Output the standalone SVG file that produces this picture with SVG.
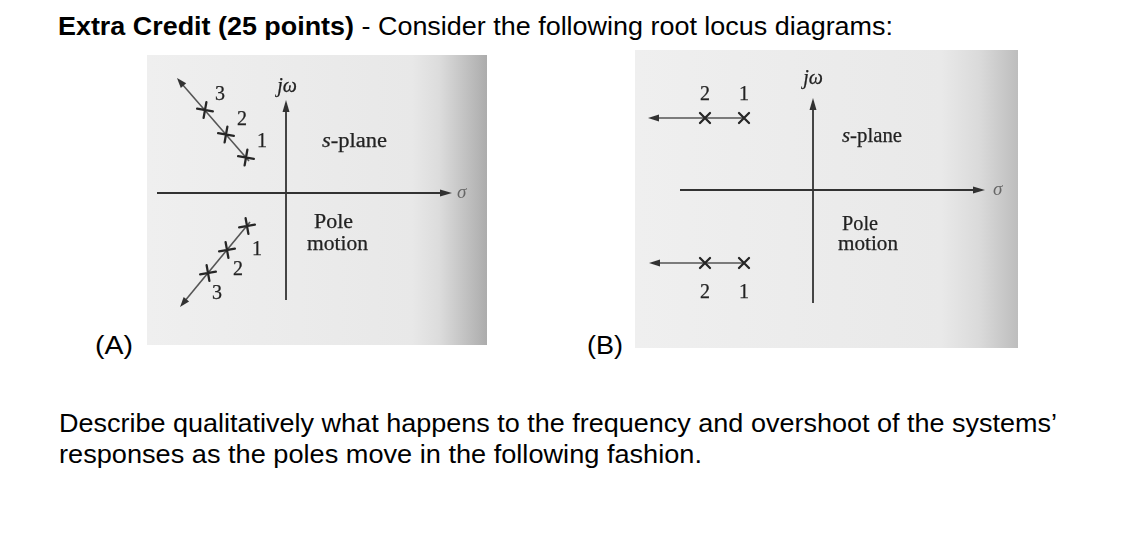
<svg xmlns="http://www.w3.org/2000/svg" width="1142" height="539" viewBox="0 0 1142 539">
<style>
.main{font-family:"Liberation Sans",Arial,sans-serif;font-size:25px;fill:#000}
.bold{font-weight:bold}
.fig{font-family:"Liberation Serif","Times New Roman",serif;font-size:20px;fill:#222;stroke:#222;stroke-width:0.25}
.num{font-family:"Liberation Serif","Times New Roman",serif;font-size:20px;fill:#222;stroke:#222;stroke-width:0.25;text-anchor:middle}
.it{font-style:italic}
.sig{font-family:"Liberation Serif","Times New Roman",serif;font-style:italic;font-size:19px;fill:#666}
.ax{stroke:#333;stroke-width:1.8;fill:none}
.loc{stroke:#555;stroke-width:1.6;fill:none}
.pole{stroke:#262626;stroke-width:2.3;fill:none;stroke-linecap:round}
.head{fill:#333;stroke:none}
</style>
<defs>
<linearGradient id="gA" x1="0" x2="1" y1="0" y2="0">
<stop offset="0" stop-color="#efefef"/>
<stop offset="0.78" stop-color="#e8e8e8"/>
<stop offset="0.86" stop-color="#dcdcdc"/>
<stop offset="1" stop-color="#acacac"/>
</linearGradient>
<linearGradient id="gB" x1="0" x2="1" y1="0" y2="0">
<stop offset="0" stop-color="#efefef"/>
<stop offset="0.8" stop-color="#e9e9e9"/>
<stop offset="0.9" stop-color="#dadada"/>
<stop offset="1" stop-color="#bdbdbd"/>
</linearGradient>
<filter id="soft" x="-5%" y="-5%" width="110%" height="110%"><feGaussianBlur stdDeviation="0.5"/></filter>
<path id="plus" d="M-8 0H8M0-8V8"/>
<path id="ex" d="M-5-5L5 5M-5 5L5-5"/>
</defs>

<g id="title">
<text class="main bold" x="58" y="35" textLength="296" lengthAdjust="spacingAndGlyphs">Extra Credit (25 points)</text>
<text class="main" x="361.5" y="35" textLength="531.5" lengthAdjust="spacingAndGlyphs">- Consider the following root locus diagrams:</text>
</g>

<g id="figureA">
<rect x="147" y="55" width="340" height="290" fill="url(#gA)"/>
<g filter="url(#soft)">
<line class="ax" x1="157" y1="193" x2="443" y2="193"/>
<polygon class="head" points="452,193 440,189.5 440,196.5"/>
<line class="ax" x1="286" y1="300" x2="286" y2="110"/>
<polygon class="head" points="286,100 282.5,112 289.5,112"/>
<line class="loc" x1="182" y1="84" x2="249" y2="161"/>
<polygon class="head" points="177,78 186.2,83.3 180.8,87.9"/>
<line class="loc" x1="250" y1="222" x2="184" y2="302"/>
<polygon class="head" points="180,307 189.1,301.5 183.7,297.1"/>
<use href="#plus" class="pole" transform="translate(205,110) rotate(10)"/>
<use href="#plus" class="pole" transform="translate(226,134.5) rotate(10)"/>
<use href="#plus" class="pole" transform="translate(246,157.5) rotate(10)"/>
<use href="#plus" class="pole" transform="translate(247,226) rotate(-10)"/>
<use href="#plus" class="pole" transform="translate(227,250) rotate(-10)"/>
<use href="#plus" class="pole" transform="translate(208,273) rotate(-10)"/>
<text class="num" x="220" y="100">3</text>
<text class="num" x="242" y="125">2</text>
<text class="num" x="262" y="147">1</text>
<text class="num" x="257" y="255">1</text>
<text class="num" x="238" y="275">2</text>
<text class="num" x="217" y="299">3</text>
<text class="fig it" x="287" y="92" text-anchor="middle">jω</text>
<text class="sig" x="457" y="198">σ</text>
<text class="fig" x="322" y="147" textLength="65" lengthAdjust="spacingAndGlyphs"><tspan class="it">s</tspan>-plane</text>
<text class="fig" x="333.5" y="228" text-anchor="middle" textLength="39" lengthAdjust="spacingAndGlyphs">Pole</text>
<text class="fig" x="337.5" y="250" text-anchor="middle" textLength="61" lengthAdjust="spacingAndGlyphs">motion</text>
</g>
</g>

<g id="figureB">
<rect x="635" y="50" width="383" height="298" fill="url(#gB)"/>
<g filter="url(#soft)">
<line class="ax" x1="680" y1="190" x2="974" y2="190"/>
<polygon class="head" points="985,190 973,186.5 973,193.5"/>
<line class="ax" x1="813" y1="303" x2="813" y2="109"/>
<polygon class="head" points="813,98 809.5,110 816.5,110"/>
<line class="loc" x1="656" y1="118" x2="744" y2="118"/>
<polygon class="head" points="648,118 659,114.5 659,121.5"/>
<line class="loc" x1="657" y1="263" x2="744" y2="263"/>
<polygon class="head" points="649,263 660,259.5 660,266.5"/>
<use href="#ex" class="pole" transform="translate(705,118)"/>
<use href="#ex" class="pole" transform="translate(744,118)"/>
<use href="#ex" class="pole" transform="translate(705,263)"/>
<use href="#ex" class="pole" transform="translate(744,263)"/>
<text class="num" x="705" y="100">2</text>
<text class="num" x="744" y="100">1</text>
<text class="num" x="705" y="298">2</text>
<text class="num" x="744" y="298">1</text>
<text class="fig it" x="813" y="84" text-anchor="middle">jω</text>
<text class="sig" x="993" y="195">σ</text>
<text class="fig" x="842" y="142" textLength="60" lengthAdjust="spacingAndGlyphs"><tspan class="it">s</tspan>-plane</text>
<text class="fig" x="860" y="230" text-anchor="middle" textLength="36" lengthAdjust="spacingAndGlyphs">Pole</text>
<text class="fig" x="868" y="250" text-anchor="middle" textLength="60" lengthAdjust="spacingAndGlyphs">motion</text>
</g>
</g>

<g id="labels">
<text class="main" x="95" y="354" textLength="38" lengthAdjust="spacingAndGlyphs">(A)</text>
<text class="main" x="587" y="354" textLength="36" lengthAdjust="spacingAndGlyphs">(B)</text>
</g>

<g id="question">
<text class="main" x="59" y="432" textLength="998" lengthAdjust="spacingAndGlyphs">Describe qualitatively what happens to the frequency and overshoot of the systems’</text>
<text class="main" x="59" y="463" textLength="643" lengthAdjust="spacingAndGlyphs">responses as the poles move in the following fashion.</text>
</g>
</svg>
